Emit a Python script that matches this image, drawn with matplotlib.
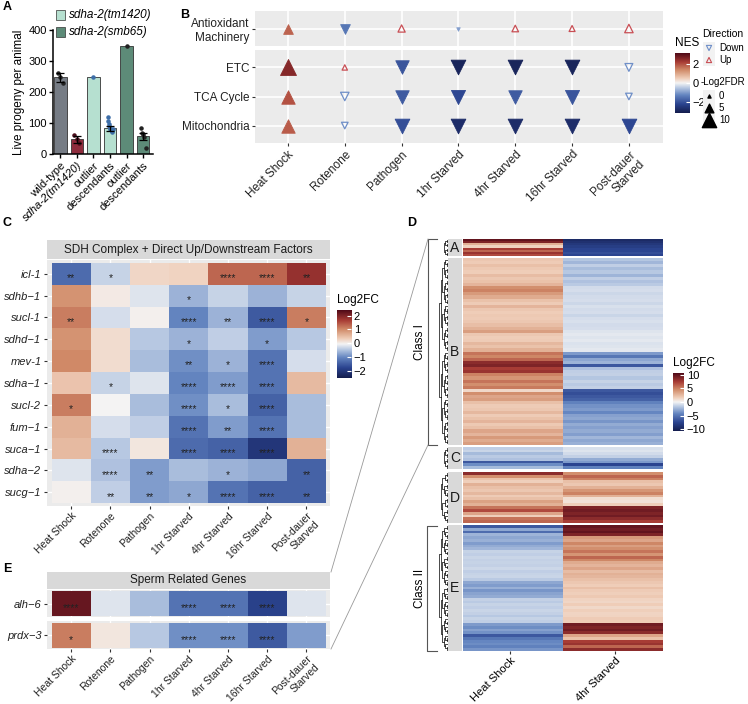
import numpy as np
import matplotlib
matplotlib.use('Agg')
import matplotlib.pyplot as plt
from matplotlib.colors import LinearSegmentedColormap, Normalize
from matplotlib.patches import Rectangle

plt.rcParams['font.family'] = ['Liberation Sans', 'DejaVu Sans']
plt.rcParams['axes.unicode_minus'] = True

# ---------------- data ----------------
# A: live progeny
a_groups = ['wild-type', 'sdha-2(tm1420)', 'outlier', 'descendants', 'outlier', 'descendants']
a_means = [247, 48, 249, 83, 350, 57]
a_sem = [14, 11, 0, 8, 0, 12]
a_points = [[262, 248, 230], [60, 47, 37], [249],
            [118, 108, 96, 90, 85, 82, 79, 77, 75, 72, 80], [350], [85, 68, 65, 55, 20]]

# B: GSEA dot plot
b_terms = ['Antioxidant\nMachinery', 'ETC', 'TCA Cycle', 'Mitochondria']
conds = ['Heat Shock', 'Rotenone', 'Pathogen', '1hr Starved', '4hr Starved',
         '16hr Starved', 'Post-dauer\nStarved']
b_nes = [[1.8, -1.5, 1.2, -1.0, 1.1, 1.1, 1.3],
         [2.6, 1.1, -2.0, -3.0, -3.0, -3.0, -1.2],
         [2.0, -1.3, -1.9, -2.2, -1.9, -2.0, -1.1],
         [1.9, -1.1, -2.1, -2.8, -2.8, -2.8, -2.2]]
b_fdr = [[5, 5, 3, 0, 2.5, 2, 4],
         [10, 1.5, 8, 9, 9, 9, 3.5],
         [8, 4, 8, 8.5, 8, 8.5, 2.5],
         [8, 2.5, 9, 9, 9, 9, 9]]
b_sig = [[1, 1, 0, 1, 0, 0, 0],
         [1, 0, 1, 1, 1, 1, 0],
         [1, 0, 1, 1, 1, 1, 0],
         [1, 0, 1, 1, 1, 1, 1]]

# C: SDH complex heatmap
c_genes = ['icl-1', 'sdhb\u22121', 'sucl-1', 'sdhd\u22121', 'mev-1', 'sdha\u22121',
           'sucl-2', 'fum\u22121', 'suca\u22121', 'sdha\u22122', 'sucg\u22121']
c_lfc = [[-1.3, -0.3, 0.3, 0.35, 1.4, 1.4, 1.9],
         [1.0, 0.1, -0.15, -0.6, -0.3, -0.6, -0.3],
         [1.2, -0.2, 0.05, -1.0, -0.6, -1.5, 1.2],
         [1.0, 0.25, -0.4, -0.6, -0.35, -0.8, -0.4],
         [1.1, 0.25, -0.5, -0.9, -0.6, -1.2, -0.2],
         [0.5, -0.3, -0.15, -1.0, -0.8, -1.2, 0.6],
         [1.2, 0.0, -0.5, -0.9, -0.5, -1.4, -0.5],
         [0.7, -0.2, -0.35, -1.2, -0.8, -1.2, -0.5],
         [0.6, -0.4, 0.15, -1.3, -1.4, -2.0, 0.7],
         [-0.15, -0.45, -0.8, -0.5, -0.6, -0.7, -1.4],
         [0.05, -0.35, -0.8, -0.7, -1.2, -1.4, -1.4]]
c_stars = [['**', '*', '', '', '****', '****', '**'],
           ['', '', '', '*', '', '', ''],
           ['**', '', '', '****', '**', '****', '*'],
           ['', '', '', '*', '', '*', ''],
           ['', '', '', '**', '*', '****', ''],
           ['', '*', '', '****', '****', '****', ''],
           ['*', '', '', '****', '*', '****', ''],
           ['', '', '', '****', '**', '****', ''],
           ['', '****', '', '****', '****', '****', ''],
           ['', '****', '**', '', '*', '', '**'],
           ['', '**', '**', '*', '****', '****', '**']]

# E: sperm related genes
e_genes = ['alh\u22126', 'prdx\u22123']
e_lfc = [[2.3, -0.15, -0.5, -1.2, -1.2, -1.8, -0.15],
         [1.2, 0.15, -0.4, -0.9, -0.9, -1.5, -0.8]]
e_stars = [['****', '', '', '****', '****', '****', ''],
           ['*', '', '', '****', '****', '****', '']]

# D: clustered heatmap (Heat Shock, 4hr Starved)
d_cols = ['Heat Shock', '4hr Starved']
d_blocks = ['A', 'B', 'C', 'D', 'E']
d_hs = {
    'A': [10, 9, 3, 1.5, 7.5, 6, 8, 7],
    'B': [2.0, 1.8, 2.3, 1.9, 1.7, 2.5, 2.0, 2.2, 2.8,
          4.5, 5.0, 4.0, 3.2,
          2.2, 1.8, 2.8, 2.0, 1.7, 1.9, 1.8, 2.0, 2.4, 3.0,
          3.8, 2.0, 1.7, 1.8, 2.6, 2.2, 3.0,
          5.5, 4.8, 6.0,
          8.5, 9.0, 7.5, 8.0,
          5.0, 4.2, 5.5, 4.5, 5.2,
          1.2,
          4.5, 3.5, 3.8,
          2.3, 1.8, 2.0, 2.6, 1.8, 2.2, 2.8, 1.9, 2.3,
          3.5, 2.8, 4.0, 3.2, 3.8],
    'C': [-1.5, -1.2, -2.2, -1.6, -2.0, -6.5, -4.0, -2.2],
    'D': [8.5, 4.5, 2.2, 1.6, 3.0, 2.3, 2.0, 2.6, 1.8, 2.3, 3.6, 3.0, 5.5, 7.0, 3.5, 1.6, 5.5, 6.0],
    'E': [-6.5, -3.0, -5.5, -2.5, -3.0, -2.6, -3.4, -2.8, -2.4, -1.3, -1.5, -1.2, -1.4,
          -1.3, -1.4, -1.1, -1.5, -1.3, -1.2, -1.6, -3.0, -3.4, -2.6, -3.6, -3.1, -2.8,
          -1.4, -1.6, -1.3, -1.5, -1.2, -1.4, -1.7, -1.3, -1.5, -3.5, -4.0, -3.2, -3.8,
          -6.5, -5.0, -4.2, -4.0, -4.5, -3.6],
}
d_st = {
    'A': [-9.5, -9, -8.5, -8, -7.5, -7.5, -7, -7.5],
    'B': [-1.8, -2.4, -1.5, -2.1, -1.7, -2.5, -1.5, -2.0, -1.6,
          -1.0, -0.9, -1.1, -1.0,
          -0.9, -1.1, -0.8, -1.0, -0.9, -1.2, -0.9, -0.8, -1.0, -0.9,
          -0.6, -0.5, -0.6, -0.5, -0.7, -0.6, -0.5,
          -3.5, -5.0, -3.0,
          -2.5, -6.5, -2.0, -1.5,
          -1.4, -1.8, -1.3, -1.6, -1.4,
          -6.5,
          -7.0, -6.5, -6.0,
          -4.5, -3.8, -3.5, -4.2, -3.2, -3.0, -3.6, -2.8, -3.2,
          -2.8, -3.3, -2.4, -3.0, -2.6],
    'C': [-0.8, -0.6, -1.0, -1.4, -2.8, -3.5, -7.5, -4.5],
    'D': [4.5, 6.0, 5.0, 2.3, 2.0, 3.0, 4.2, 5.0, 3.0, 1.0, 0.8, 1.6, 9.0, 9.5, 9.0, 9.5, 8.5, 7.5],
    'E': [10.0, 9.5, 10.0, 9.0, 4.0, 3.5, 4.8, 3.8, 4.5, 5.5, 4.2, 6.0, 4.8,
          3.2, 2.8, 3.5, 2.5, 3.0, 2.7, 2.3, 2.0, 1.7, 2.3, 1.8, 1.6, 1.9,
          1.5, 1.3, 1.7, 1.2, 1.6, 1.4, 1.5, 1.8, 1.7, 9.5, 9.0, 9.5, 8.5,
          3.5, 2.2, 7.5, 8.0, 6.0, 8.5],
}

# ---------------- style ----------------
W, H = 748, 704
fig = plt.figure(figsize=(W / 100, H / 100), dpi=100)

div_cmap = LinearSegmentedColormap.from_list('div', [
    (0.0, '#141d4d'), (0.15, '#2b4490'), (0.3, '#6485c0'), (0.42, '#b7c8e2'),
    (0.5, '#f4f4f4'), (0.58, '#efcdb8'), (0.72, '#d08a68'), (0.85, '#a83c35'),
    (1.0, '#4f0a18')])
PANEL_BG = '#EBEBEB'
STRIP_BG = '#D9D9D9'
XLAB_FS = 7.5


def box(x0, y0, x1, y1):
    return fig.add_axes([x0 / W, 1 - y1 / H, (x1 - x0) / W, (y1 - y0) / H])


def gg_axes(ax):
    ax.set_facecolor(PANEL_BG)
    for s in ax.spines.values():
        s.set_visible(False)
    ax.tick_params(length=2.5, color='#333333', labelsize=8.5, labelcolor='#222222', pad=1.5)


def colorbar(x0, y0, x1, y1, norm, ticks, title):
    cax = box(x0, y0, x1, y1)
    grad = np.linspace(norm.vmin, norm.vmax, 256).reshape(-1, 1)
    cax.imshow(grad, aspect='auto', cmap=div_cmap, norm=norm, origin='lower',
               extent=[0, 1, norm.vmin, norm.vmax])
    cax.set_xticks([])
    cax.yaxis.tick_right()
    cax.set_yticks(ticks)
    cax.set_yticklabels([str(t).replace('-', '\u2212') for t in ticks])
    cax.tick_params(axis='y', length=3, direction='in', color='white', labelsize=8, pad=2)
    for s in cax.spines.values():
        s.set_visible(False)
    fig.text(x0 / W, 1 - (y0 - 4) / H, title, fontsize=8.5, va='bottom', ha='left')
    return cax


def cond_labels(ax):
    ax.set_xticklabels(conds, rotation=45, ha='right', rotation_mode='anchor', fontsize=XLAB_FS)
    ax.tick_params(axis='x', pad=1)


# ---------------- A ----------------
ax = box(53, 30, 153, 154)
xa = np.arange(len(a_groups))
a_colors = ['#767c85', '#8e2c3d', '#b6e0d0', '#b6e0d0', '#5d8b78', '#5d8b78']
pt_colors = ['#222222', '#4a0d1a', '#3d6ea8', '#3d6ea8', '#222222', '#222222']
ax.bar(xa, a_means, width=0.75, color=a_colors, edgecolor='#333333', linewidth=0.6, zorder=2)
for i, pts in enumerate(a_points):
    jit = np.linspace(-0.15, 0.15, len(pts)) if len(pts) > 1 else [0]
    ax.scatter(xa[i] + np.asarray(jit), pts, s=5, color=pt_colors[i], zorder=4)
    if a_sem[i] > 0:
        ax.errorbar(xa[i], a_means[i], yerr=a_sem[i], color='black', lw=0.9,
                    capsize=3, capthick=0.9, zorder=5)
ax.set_xlim(-0.45, 5.6)
ax.set_ylim(0, 400)
ax.set_yticks([0, 100, 200, 300, 400])
ax.set_xticks(xa)
ax.set_xticklabels(a_groups, rotation=45, ha='right', rotation_mode='anchor')
for lbl in ax.get_xticklabels():
    if 'sdha' in lbl.get_text():
        lbl.set_style('italic')
for s in ['top', 'right']:
    ax.spines[s].set_visible(False)
for s in ['left', 'bottom']:
    ax.spines[s].set_linewidth(1.1)
ax.tick_params(labelsize=8, length=3, width=1, pad=1.5)
ax.set_ylabel('Live progeny per animal', fontsize=8.5, labelpad=2)

# ---------------- B ----------------
nes_norm = Normalize(-3.2, 3.2)


def draw_gsea(ax, rows):
    for k, r in enumerate(rows):
        for c in range(len(conds)):
            nes = b_nes[r][c]
            s = (2.5 + 0.9 * b_fdr[r][c]) ** 2
            mk = '^' if nes > 0 else 'v'
            if b_sig[r][c]:
                col = div_cmap(nes_norm(nes))
                ax.scatter(c, k, s=s, marker=mk, facecolor=col, edgecolor=col, lw=0.6, zorder=3)
            else:
                ec = '#c94f55' if nes > 0 else '#6f8fc8'
                ax.scatter(c, k, s=s, marker=mk, facecolor='none', edgecolor=ec, lw=0.9, zorder=3)
    ax.set_xlim(-0.58, len(conds) - 0.4)
    ax.set_yticks(range(len(rows)))
    ax.set_yticklabels([b_terms[r] for r in rows])
    ax.set_xticks(range(len(conds)))
    ax.grid(color='white', lw=1.2)
    ax.set_axisbelow(True)


axb1 = box(255, 11, 663, 46)
gg_axes(axb1)
draw_gsea(axb1, [0])
axb1.set_ylim(0.6, -0.6)
axb1.tick_params(axis='x', length=0, labelbottom=False)
axb2 = box(255, 50, 663, 143)
gg_axes(axb2)
draw_gsea(axb2, [1, 2, 3])
axb2.set_ylim(2.6, -0.6)
axb2.set_xticklabels(conds, rotation=45, ha='right', rotation_mode='anchor')

colorbar(675, 53, 690, 113, nes_norm, [-2, 0, 2], 'NES')

# ---------------- C ----------------
cnorm = Normalize(-2.5, 2.5)


def draw_tiles(ax, vals, stars, labels, norm):
    vals = np.asarray(vals)
    nr, nc = vals.shape
    ax.pcolormesh(np.arange(nc + 1) - 0.5, np.arange(nr + 1) - 0.5, vals,
                  cmap=div_cmap, norm=norm, zorder=2)
    for i in range(nr):
        for j in range(nc):
            if stars[i][j]:
                ax.text(j, i + 0.2, stars[i][j], ha='center', va='center',
                        fontsize=7.5, color='#222222', zorder=3)
    ax.set_xlim(-0.62, nc - 0.4)
    ax.set_yticks(range(nr))
    ax.set_yticklabels(labels, style='italic', fontsize=8)
    ax.set_xticks(range(nc))
    ax.grid(color='white', lw=1.0)
    ax.set_axisbelow(True)


def strip(x0, y0, x1, y1, txt, fs=8.5, rot=0):
    sa = box(x0, y0, x1, y1)
    sa.set_facecolor(STRIP_BG)
    sa.set_xticks([])
    sa.set_yticks([])
    for s in sa.spines.values():
        s.set_visible(False)
    sa.text(0.5, 0.5, txt, transform=sa.transAxes, ha='center', va='center',
            fontsize=fs, rotation=rot, color='#1a1a1a')
    return sa


strip(47, 240, 330, 259, 'SDH Complex + Direct Up/Downstream Factors')
axc = box(47, 260, 330, 506)
gg_axes(axc)
draw_tiles(axc, c_lfc, c_stars, c_genes, cnorm)
axc.set_ylim(len(c_genes) - 0.37, -0.63)
cond_labels(axc)
colorbar(337, 310, 351, 378, Normalize(-2.5, 2.4), [-2, -1, 0, 1, 2], 'Log2FC')

# ---------------- E ----------------
strip(47, 572, 330, 589, 'Sperm Related Genes')
e_boxes = [(590, 617), (621, 649)]
for k, (y0, y1) in enumerate(e_boxes):
    axe = box(47, y0, 330, y1)
    gg_axes(axe)
    draw_tiles(axe, [e_lfc[k]], [e_stars[k]], [e_genes[k]], cnorm)
    axe.set_ylim(0.56, -0.56)
    if k == 0:
        axe.tick_params(axis='x', length=0, labelbottom=False)
    else:
        cond_labels(axe)

# ---------------- D ----------------
dnorm = Normalize(-10.7, 10.7)
d_boxes = {'A': (239, 256), 'B': (258, 445), 'C': (447, 469), 'D': (472, 523), 'E': (525, 651)}


def dendro(ax, n):
    def rec(lo, hi):
        if hi - lo == 1:
            return lo, 0.0
        mid = (lo + hi) // 2
        p1, h1 = rec(lo, mid)
        p2, h2 = rec(mid, hi)
        h = max(h1, h2) + 1
        ax.plot([h1, h, h, h2], [p1, p1, p2, p2], color='black', lw=0.5)
        return (p1 + p2) / 2, h
    rec(0, n)
    ax.set_xlim(7.5, 0)
    ax.set_ylim(n - 0.5, -0.5)
    ax.axis('off')


for blk in d_blocks:
    y0, y1 = d_boxes[blk]
    vals = np.column_stack([d_hs[blk], d_st[blk]])
    n = vals.shape[0]
    axd = box(463, y0, 663, y1)
    axd.pcolormesh([-0.5, 0.5, 1.5], np.arange(n + 1) - 0.5, vals, cmap=div_cmap, norm=dnorm)
    axd.set_xlim(-0.5, 1.5)
    axd.set_ylim(n - 0.5, -0.5)
    axd.set_yticks([])
    for s in axd.spines.values():
        s.set_visible(False)
    if blk == 'E':
        axd.set_xticks([-0.03, 1.02])
        axd.set_xticklabels(d_cols, rotation=45, ha='right', rotation_mode='anchor', fontsize=8)
        axd.tick_params(axis='x', length=2.5, color='#333333', pad=1)
    else:
        axd.set_xticks([])
    strip(448, y0, 462, y1, blk, fs=10)
    dax = box(437, y0, 448, y1)
    dendro(dax, n)

colorbar(673, 373, 684, 431, dnorm, [-10, -5, 0, 5, 10], 'Log2FC')

# ---------------- overlay: legends, brackets, labels ----------------
ov = fig.add_axes([0, 0, 1, 1])
ov.set_xlim(0, W)
ov.set_ylim(H, 0)
ov.axis('off')

# A legend
for yy, col, lab in [(15, '#b6e0d0', 'sdha-2(tm1420)'), (32, '#5d8b78', 'sdha-2(smb65)')]:
    ov.add_patch(Rectangle((56, yy - 5), 9, 10, facecolor=col, edgecolor='#333333', lw=0.5))
    ov.text(69, yy, lab, fontsize=8.5, style='italic', va='center', ha='left')

# B legends
ov.text(702, 34, 'Direction', fontsize=7.5, va='center')
for yy, mk, ec, lab in [(48, 'v', '#6f8fc8', 'Down'), (60, '^', '#c94f55', 'Up')]:
    ov.add_patch(Rectangle((703, yy - 6), 12, 12, facecolor='#F2F2F2', edgecolor='none'))
    ov.scatter(709, yy, s=14, marker=mk, facecolor='none', edgecolor=ec, lw=0.8)
    ov.text(719, yy, lab, fontsize=7, va='center')
ov.text(701, 82, '-Log2FDR', fontsize=7, va='center')
for yy, v in [(96, 0), (108, 5), (120, 10)]:
    ov.add_patch(Rectangle((703, yy - 6), 12, 12, facecolor='#F2F2F2', edgecolor='none'))
    ov.scatter(709, yy, s=(2.5 + 0.9 * v) ** 2 * 0.8, marker='^', color='black')
    ov.text(719, yy, str(v), fontsize=7, va='center')

# D brackets and class labels
ov.plot([437, 428, 428, 437], [239, 239, 445, 445], color='#555555', lw=0.8)
ov.plot([437, 427, 427, 437], [526, 526, 651, 651], color='#555555', lw=0.8)
ov.text(420, 342, 'Class I', rotation=90, fontsize=8.5, ha='center', va='center')
ov.text(420, 588, 'Class II', rotation=90, fontsize=8.5, ha='center', va='center')
# connectors from sperm genes to class I
ov.plot([428, 331], [239, 572], color='#999999', lw=0.6)
ov.plot([428, 331], [445, 649], color='#999999', lw=0.6)

# panel letters
for lx, ly, L in [(7, 7, 'A'), (185, 15, 'B'), (7, 223, 'C'), (412, 223, 'D'), (7, 569, 'E')]:
    ov.text(lx, ly, L, fontsize=9, fontweight='bold', ha='center', va='center')

fig.savefig('out.png', dpi=100)
